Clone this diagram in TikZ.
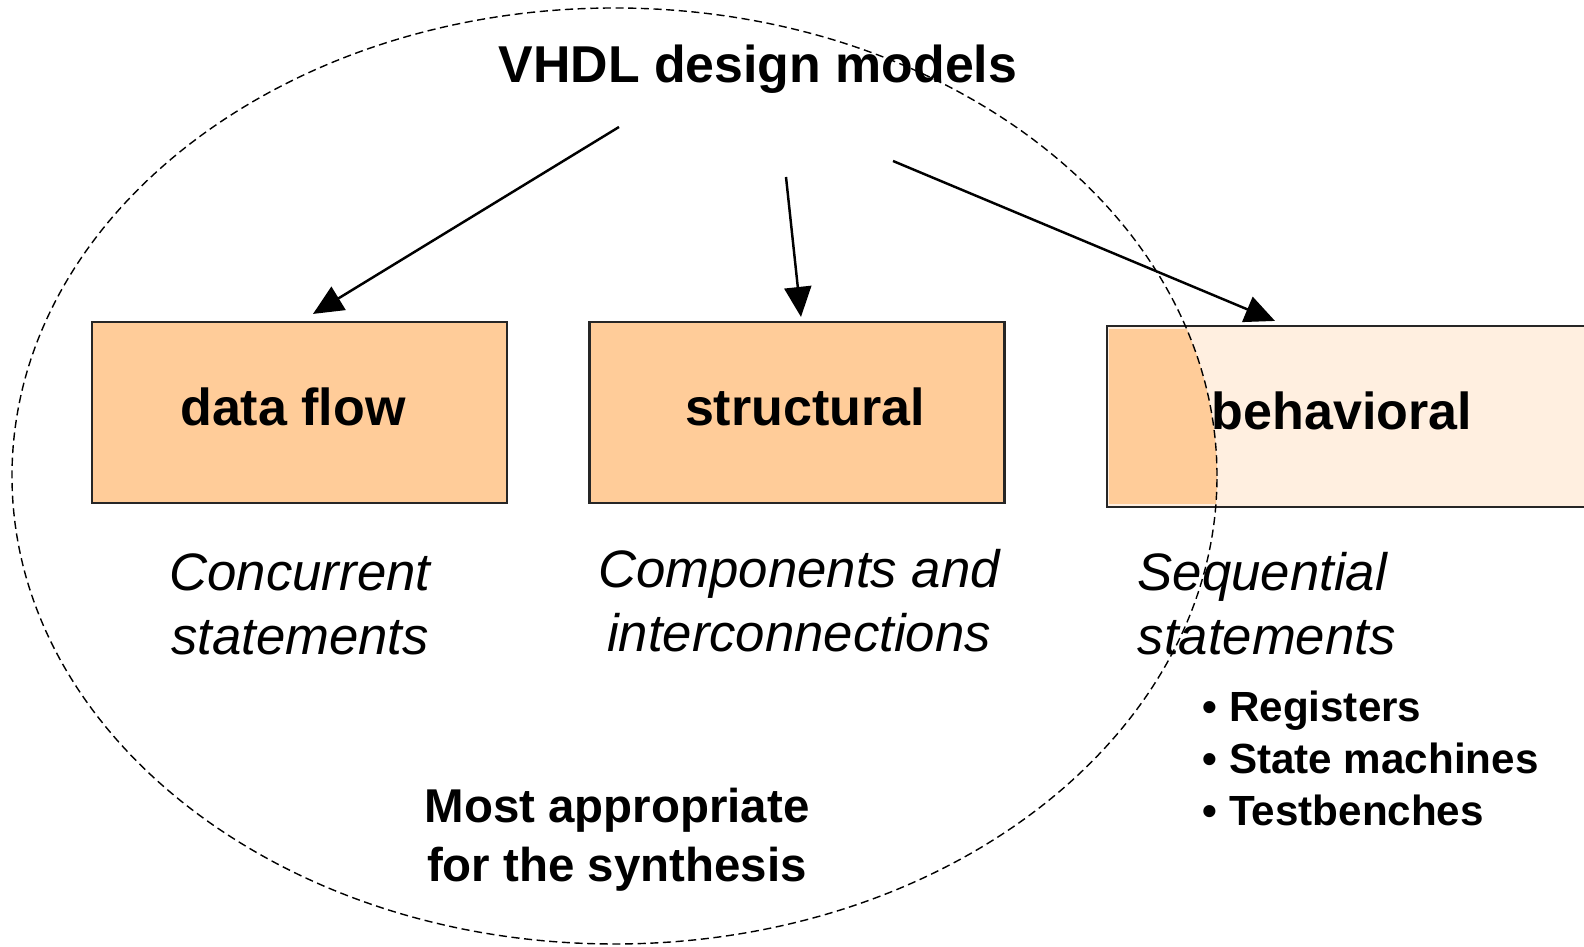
\documentclass[tikz,border=0pt]{standalone}
\usepackage{fontspec}
\setmainfont{Liberation Sans}
\usepackage{tikz}
\usetikzlibrary{arrows.meta}
\definecolor{peach}{HTML}{FFCC99}
\definecolor{palepeach}{HTML}{FFEFE0}

\begin{document}
\begin{tikzpicture}[
    modelbox/.style={draw=black!85, line width=0.6pt, fill=peach,
      minimum width=4.15cm, minimum height=1.81cm, inner sep=0pt},
    modelname/.style={inner sep=0pt, font=\bfseries\fontsize{14.8}{17}\selectfont},
    note/.style={inner sep=0pt, align=center, font=\itshape\fontsize{15}{18.2}\selectfont},
    pointer/.style={line width=0.7pt, -{Triangle[length=3mm,width=2.7mm]}}
  ]
        \path [use as bounding box, clip] (0, 0) rectangle (15.84, 9.47);

        % title
        \node [inner sep=0pt, font=\bfseries\fontsize{14.75}{17}\selectfont]
          (title) at (7.58, 8.78) {VHDL design models};

        % the three models
        \node [modelbox] (flow) at (2.995, 5.345) {};
        \node [modelname] at (2.93, 5.40) {data flow};

        \node [modelbox] (struct) at (7.97, 5.345) {};
        \node [modelname] at (8.05, 5.40) {structural};

        \node [modelbox, fill=palepeach, minimum width=5.4cm, anchor=west]
          (behav) at (11.06, 5.305) {};
        % part of behavioral inside the ellipse
        \begin{scope}
          \clip (6.145, 4.71) ellipse (6.025 and 4.68);
          \fill [peach] (11.09, 6.18) rectangle (13.0, 4.43);
        \end{scope}
        \node [modelname] at (13.42, 5.36) {behavioral};

        % arrows
        \draw [pointer] ([shift={(-1.39, -0.58)}]title.center) -- ([shift={(0.135, 0.07)}]flow.north);
        \draw [pointer] ([shift={(0.28, -1.08)}]title.center) -- ([shift={(0.04, 0.04)}]struct.north);
        \draw [pointer] ([shift={(1.35, -0.92)}]title.center) -- ([shift={(1.69, 0.04)}]behav.north west);

        % what each model describes
        \node [note] (flownote) at (3.00, 3.43) {Concurrent\\ statements};
        \node [note] (structnote) at (7.99, 3.46) {Components and\\ interconnections};
        \node [note, align=left, anchor=west] (behavnote) at (11.37, 3.43) {Sequential\\ statements};

        % uses of behavioral
        \node [inner sep=0pt, align=left, anchor=west, font=\bfseries\fontsize{12}{14.8}\selectfont]
          (uses) at (12.02, 1.885) {• Registers\\ • State machines\\ • Testbenches};

        % synthesis
        \node [inner sep=0pt, align=center, font=\bfseries\fontsize{13.5}{16.7}\selectfont]
          (synth) at (6.17, 1.07) {Most appropriate\\ for the synthesis};

        % the ellipse
        \draw [line width=0.4pt, dash pattern=on 2.3pt off 1.3pt]
          (6.145, 4.71) ellipse (6.025 and 4.68);

\end{tikzpicture}
\end{document}
